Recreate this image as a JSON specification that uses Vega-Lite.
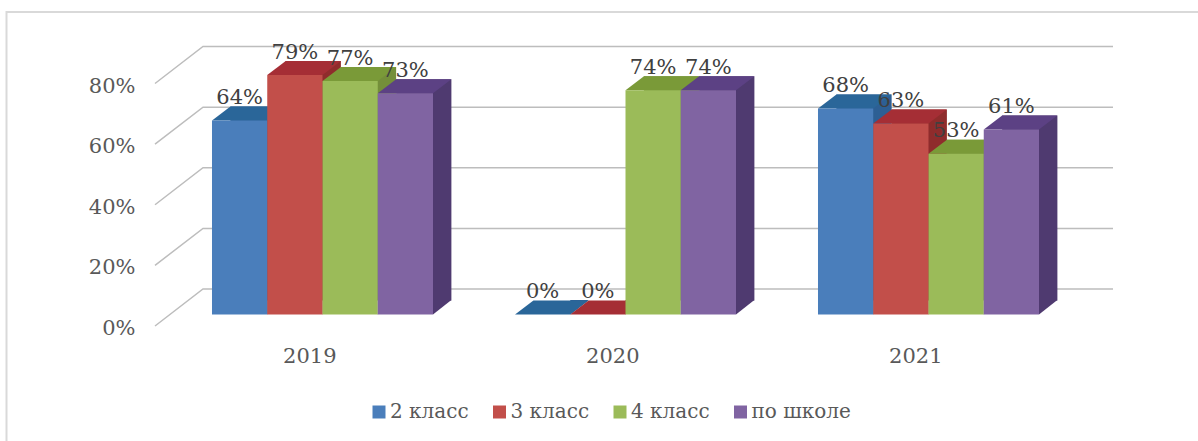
{
"$schema":"https://vega.github.io/schema/vega-lite/v6.json",
"width":909,"height":242.5,
"autosize":{"type":"none"},
"padding":{"left":171,"top":72,"right":118,"bottom":126.5},
"background":"white",
"config":{"view":{"stroke":null},"text":{"font":"DejaVu Serif"}},
"datasets":{
"bars":[
{"year":"2019","series":"2 класс","value":0.64},
{"year":"2019","series":"3 класс","value":0.79},
{"year":"2019","series":"4 класс","value":0.77},
{"year":"2019","series":"по школе","value":0.73},
{"year":"2020","series":"2 класс","value":0},
{"year":"2020","series":"3 класс","value":0},
{"year":"2020","series":"4 класс","value":0.74},
{"year":"2020","series":"по школе","value":0.74},
{"year":"2021","series":"2 класс","value":0.68},
{"year":"2021","series":"3 класс","value":0.63},
{"year":"2021","series":"4 класс","value":0.53},
{"year":"2021","series":"по школе","value":0.61}
],
"grid":[{"year":"2019","tick":0},{"year":"2019","tick":0.2},{"year":"2019","tick":0.4},{"year":"2019","tick":0.6},{"year":"2019","tick":0.8}],
"frame":[{"year":"2019","tick":0}]
},
"resolve":{"scale":{"color":"independent","xOffset":"independent"}},
"layer":[
{"data":{"name":"frame"},
 "mark":{"type":"point","shape":"M-316,126.5 L-316,-302.5 L875.5,-302.5","size":4,"filled":false,"stroke":"#d9d9d9","strokeWidth":2,"opacity":1},
 "encoding":{"x":{"field":"year","type":"nominal","scale":{"paddingInner":0.2706,"paddingOuter":0.1353}},"y":{"field":"tick","type":"quantitative","scale":{"domain":[0,0.8],"nice":false}}}},
{"data":{"name":"grid"},
 "mark":{"type":"point","shape":"M-167.5,11.5 L-119.5,-25.5 L790.5,-25.5","size":4,"filled":false,"stroke":"#bdbdbd","strokeWidth":1.5,"opacity":1},
 "encoding":{"x":{"field":"year","type":"nominal"},"y":{"field":"tick","type":"quantitative"}}},
{"data":{"name":"bars"},
 "mark":{"type":"bar","yOffset":-14,"y2Offset":-14},
 "encoding":{"x":{"field":"year","type":"nominal"},"xOffset":{"field":"series","type":"nominal","scale":{"range":[18.4,239.4]}},"y":{"field":"value","type":"quantitative","stack":null},"y2":{"datum":0},
  "color":{"field":"series","type":"nominal","legend":null,"scale":{"range":["#2d5f94","#8f2c2c","#748f3a","#4f3a70"]}}}},
{"data":{"name":"bars"},
 "mark":{"type":"point","shape":"M27.6,0 L46,-14.6 L27.6,-14.6 Z","size":4,"filled":true,"strokeWidth":0,"opacity":1},
 "encoding":{"x":{"field":"year","type":"nominal"},"xOffset":{"field":"series","type":"nominal"},"y":{"datum":0,"type":"quantitative"},
  "color":{"field":"series","type":"nominal","legend":null,"scale":{"range":["#2d5f94","#8f2c2c","#748f3a","#4f3a70"]}}}},
{"data":{"name":"bars"},
 "mark":{"type":"point","shape":"M-27.6,0 L27.6,0 L46,-14 L-9.2,-14 Z","size":4,"filled":true,"strokeWidth":0,"opacity":1},
 "encoding":{"x":{"field":"year","type":"nominal"},"xOffset":{"field":"series","type":"nominal"},"y":{"field":"value","type":"quantitative","stack":null},
  "color":{"field":"series","type":"nominal","legend":null,"scale":{"range":["#2a6699","#a52e35","#7a9a38","#5c4184"]}}}},
{"data":{"name":"bars"},
 "mark":{"type":"bar"},
 "encoding":{
  "x":{"field":"year","type":"nominal","title":null,"axis":{"labelAngle":0,"domain":false,"ticks":false,"labelOffset":14,"labelPadding":42,"labelFont":"DejaVu Serif","labelFontSize":21,"labelColor":"#595959"}},
  "xOffset":{"field":"series","type":"nominal"},
  "y":{"field":"value","type":"quantitative","stack":null,"title":null,"axis":{"values":[0,0.2,0.4,0.6,0.8],"format":".0%","grid":false,"domain":false,"ticks":false,"offset":36,"labelPadding":0,"labelOffset":14,"labelFont":"DejaVu Serif","labelFontSize":21,"labelColor":"#595959"}},
  "color":{"field":"series","type":"nominal","scale":{"range":["#4a7ebb","#c24f4a","#9bbb59","#8064a2"]},
   "legend":{"orient":"none","legendX":198,"legendY":330,"direction":"horizontal","columns":4,"title":null,"symbolType":"square","symbolSize":169,"symbolStrokeWidth":0,"labelFont":"DejaVu Serif","labelFontSize":20,"labelColor":"#595959","columnPadding":20.5,"labelOffset":1,"padding":0}}}},
{"data":{"name":"bars"},
 "mark":{"type":"text","yOffset":-22.5,"fontSize":21,"color":"#404040","font":"DejaVu Serif"},
 "encoding":{"x":{"field":"year","type":"nominal"},"xOffset":{"field":"series","type":"nominal"},"y":{"field":"value","type":"quantitative","stack":null},
  "text":{"field":"value","type":"quantitative","format":".0%"}}}
]
}
